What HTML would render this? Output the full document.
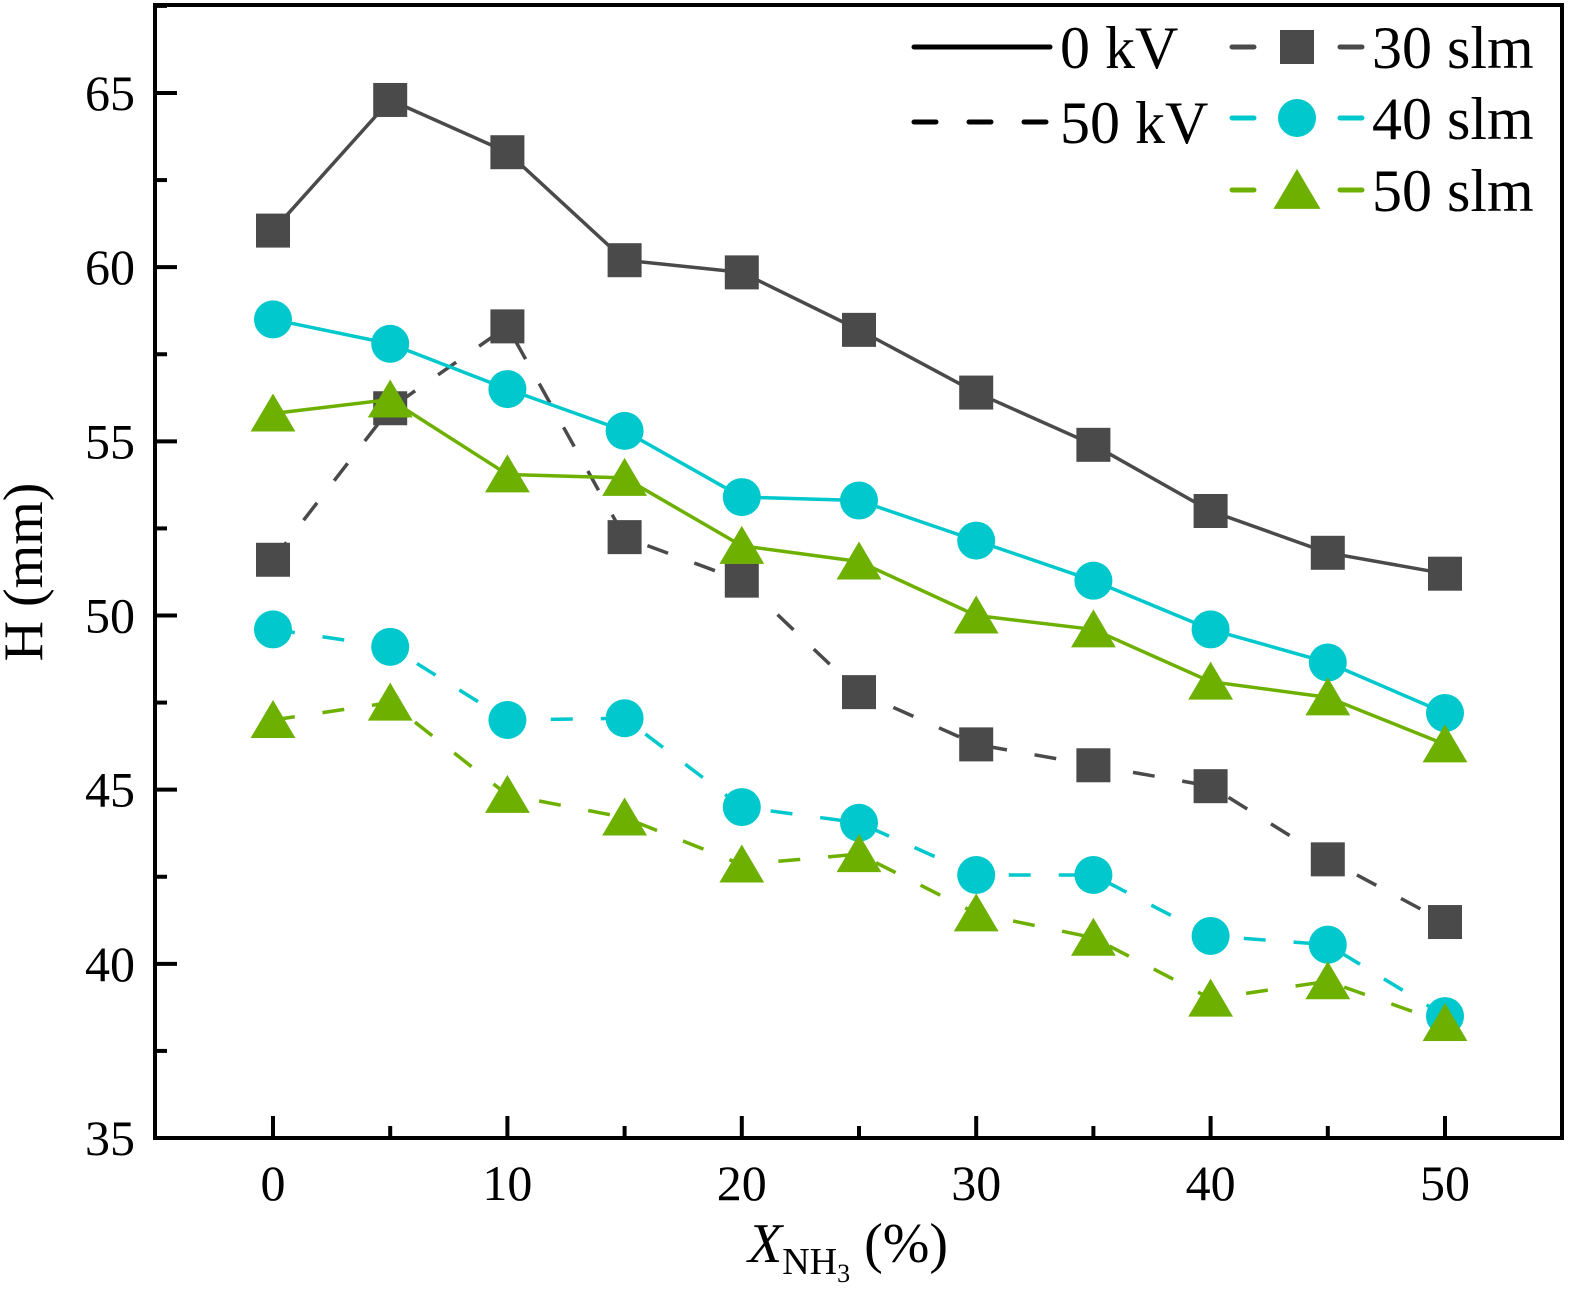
<!DOCTYPE html>
<html><head><meta charset="utf-8"><style>
html,body{margin:0;padding:0;background:#fff;}
svg{display:block;font-family:"Liberation Serif","Times New Roman",serif;}
</style></head><body>
<svg id="chart" width="1575" height="1302" viewBox="0 0 1575 1302" xmlns="http://www.w3.org/2000/svg">
<g id="axes"></g>
<g id="series"></g>
<g id="legend"></g>
<text x="42" y="572" font-size="56" text-anchor="middle" transform="rotate(-90 42 572)">H (mm)</text>
<text x="848" y="1262" font-size="56" text-anchor="middle"><tspan font-style="italic">X</tspan><tspan font-size="38" dy="12">NH</tspan><tspan font-size="26" dy="8">3</tspan><tspan dy="-20"> (%)</tspan></text>
</svg>
<script>
const xValues=[0,5,10,15,20,25,30,35,40,45,50];
const s30_0kV=[61.05,64.8,63.3,60.2,59.85,58.2,56.4,54.9,53.0,51.8,51.2];
const s30_50kV=[51.6,55.95,58.3,52.25,51.0,47.8,46.3,45.7,45.1,43.0,41.2];
const s40_0kV=[58.5,57.8,56.5,55.3,53.4,53.3,52.15,51.0,49.6,48.65,47.2];
const s40_50kV=[49.6,49.1,47.0,47.05,44.5,44.05,42.55,42.55,40.8,40.55,38.5];
const s50_0kV=[55.8,56.2,54.05,53.95,52.0,51.55,50.0,49.6,48.1,47.65,46.3];
const s50_50kV=[47.0,47.5,44.85,44.2,42.85,43.15,41.45,40.75,39.0,39.5,38.3];
const xTicks=[0,10,20,30,40,50];
const yTicks=[35,40,45,50,55,60,65];

const NS="http://www.w3.org/2000/svg";
const L=155,R=1562,T=5,B=1138;
function xs(v){return 273+(v-0)*(1445-273)/50;}
function ys(v){return 1138-(v-35)*(1138-93)/30;}
function mk(tag,attrs,parent){const e=document.createElementNS(NS,tag);for(const k in attrs)e.setAttribute(k,attrs[k]);parent.appendChild(e);return e;}

const axes=document.getElementById('axes');
const frame=mk('rect',{x:L,y:T,width:R-L,height:B-T,fill:'none',stroke:'#000','stroke-width':4},axes);


for(let v=0;v<=50;v+=5){
  const len=(v%10===0)?22:12;
  const t=mk('line',{x1:xs(v),x2:xs(v),y1:B,y2:B-len,stroke:'#000','stroke-width':4},axes);
  
  
}
xTicks.forEach(v=>{
  const t=mk('text',{x:xs(v),y:B+62,'font-size':50,'text-anchor':'middle'},axes);
  t.textContent=v;
  
  
});
for(let v=35;v<=67.5;v+=2.5){
  if(ys(v)<T)continue;
  const len=(v%5===0)?22:12;
  const t=mk('line',{x1:L,x2:L+len,y1:ys(v),y2:ys(v),stroke:'#000','stroke-width':4},axes);
  
  
}
yTicks.forEach(v=>{
  const t=mk('text',{x:135,y:ys(v)+17,'font-size':50,'text-anchor':'end'},axes);
  t.textContent=v;
  
  
});

const GRAY='#4a4a4a',CYAN='#00c8cc',GREEN='#6db000';
function marker(shape,cx,cy,color,parent,sz){
  let e;
  if(shape==='square')e=mk('rect',{x:cx-sz/2,y:cy-sz/2,width:sz,height:sz,fill:color},parent);
  else if(shape==='circle')e=mk('circle',{cx:cx,cy:cy,r:sz/2,fill:color},parent);
  else e=mk('polygon',{points:`${cx},${cy-sz*0.5} ${cx-sz*0.56},${cy+sz*0.45} ${cx+sz*0.56},${cy+sz*0.45}`,fill:color},parent);
  return e;
}
const ser=document.getElementById('series');
const defs=[
  ['series-30slm-0kv',s30_0kV,GRAY,'square',false],
  ['series-30slm-50kv',s30_50kV,GRAY,'square',true],
  ['series-40slm-0kv',s40_0kV,CYAN,'circle',false],
  ['series-40slm-50kv',s40_50kV,CYAN,'circle',true],
  ['series-50slm-0kv',s50_0kV,GREEN,'triangle',false],
  ['series-50slm-50kv',s50_50kV,GREEN,'triangle',true]
];
defs.forEach(([name,vals,color,shape,dashed])=>{
  const g=mk('g',{},ser);
  
  
  const pts=vals.map((v,i)=>xs(xValues[i])+','+ys(v)).join(' ');
  const pl=mk('polyline',{points:pts,fill:'none',stroke:color,'stroke-width':3.5,'stroke-linejoin':'round'},g);
  if(dashed){pl.setAttribute('stroke-dasharray','22 28');}
  
  
  vals.forEach((v,i)=>{
    const m=marker(shape,xs(xValues[i]),ys(v),color,g,shape==='square'?34:(shape==='circle'?38:40));
    
    
  });
});

const lg=document.getElementById('legend');
function ltext(x,y,s){const t=mk('text',{x:x,y:y,'font-size':60},lg);t.textContent=s;return t;}
const l1=mk('line',{x1:914,x2:1050,y1:47,y2:47,stroke:'#000','stroke-width':5,'stroke-linecap':'round'},lg);


ltext(1060,68,'0 kV');
const l2=mk('line',{x1:914,x2:1050,y1:122,y2:122,stroke:'#000','stroke-width':5,'stroke-linecap':'round','stroke-dasharray':'22 33'},lg);


ltext(1060,143,'50 kV');
[[47,GRAY,'square','30 slm'],[118,CYAN,'circle','40 slm'],[190,GREEN,'triangle','50 slm']].forEach(([y,c,sh,lab])=>{
  const ln=mk('line',{x1:1232,x2:1362,y1:y,y2:y,stroke:c,'stroke-width':5,'stroke-linecap':'round','stroke-dasharray':'22 86'},lg);
  
  
  const m=marker(sh,1297,y,c,lg,sh==='square'?34:(sh==='circle'?38:42));
  
  
  ltext(1372,y+21,lab);
});
</script>
</body></html>
